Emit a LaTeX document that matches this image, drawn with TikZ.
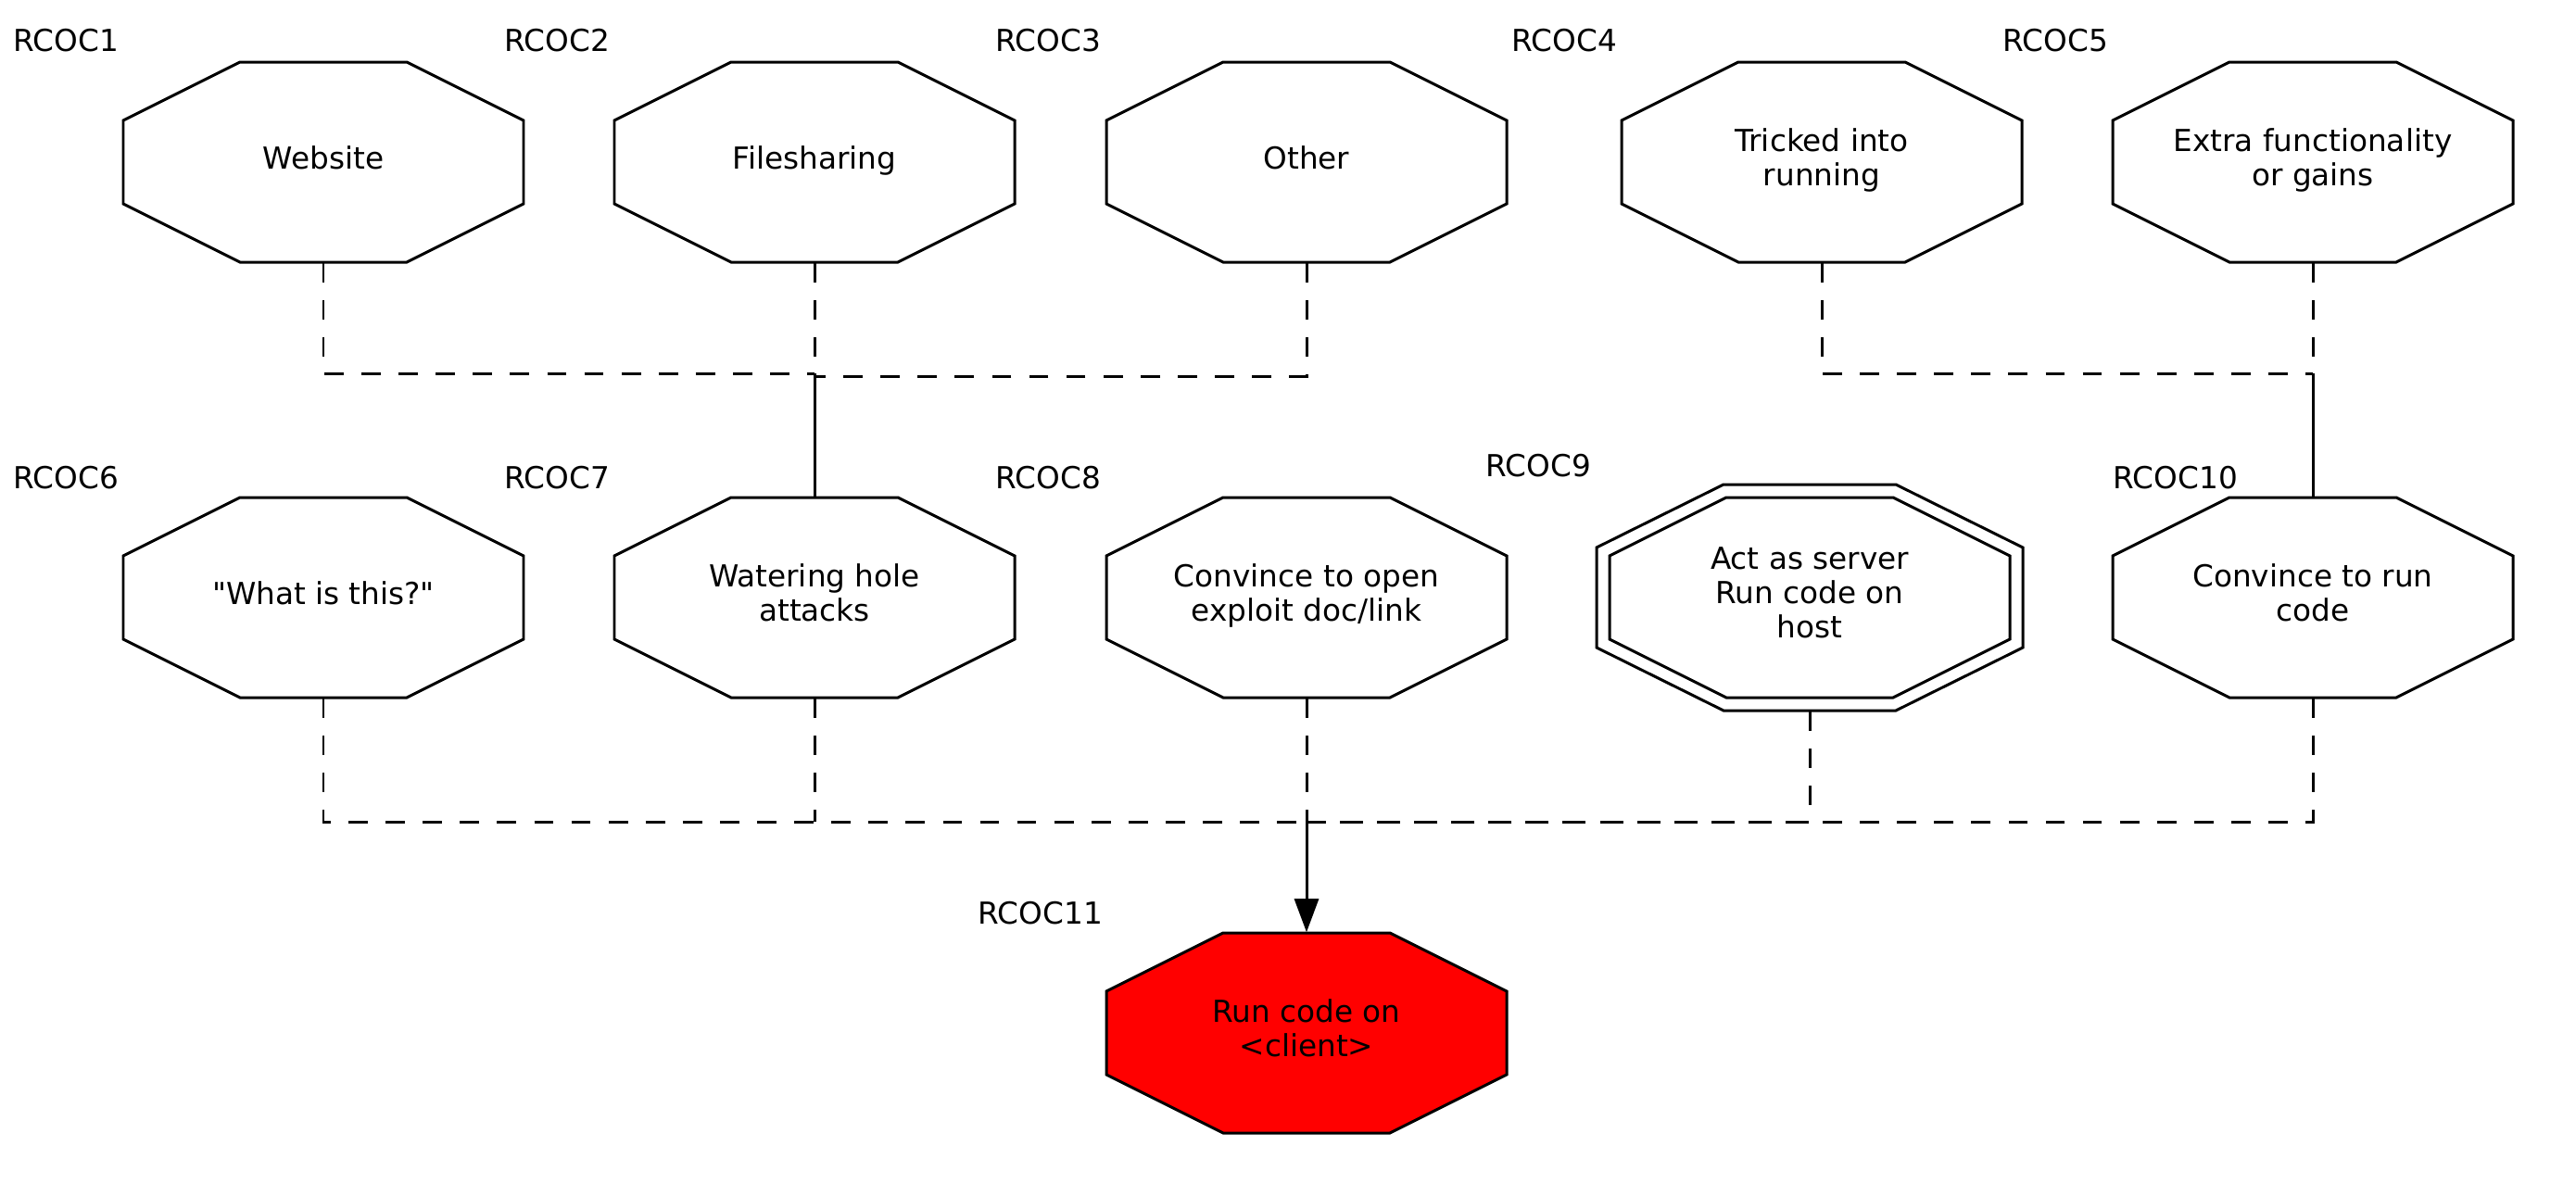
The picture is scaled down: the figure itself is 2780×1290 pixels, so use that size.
\documentclass[tikz,border=0pt]{standalone}
\usepackage{fontspec}
\newfontfamily\nodefont{DejaVu Sans}
\usetikzlibrary{arrows.meta,backgrounds}
\newcommand\octpath[1]{(#1.center) ++(-90,-108) -- ++(180,0) -- ++(126,63) -- ++(0,90) -- ++(-126,63) -- ++(-180,0) -- ++(-126,-63) -- ++(0,-90) -- cycle}
\newcommand\octouter[1]{(#1.center) ++(-93,-122) -- ++(186,0) -- ++(137,68) -- ++(0,108) -- ++(-137,68) -- ++(-186,0) -- ++(-137,-68) -- ++(0,-108) -- cycle}
\begin{document}
\begin{tikzpicture}[x=0.01cm,y=-0.01cm,
  box/.style={shape=rectangle,draw=none,minimum width=4.32cm,minimum height=2.16cm,inner sep=0pt,align=center,font=\nodefont\fontsize{9.3}{10.4}\selectfont,execute at begin node=\strut,execute at end node=\strut},
  bigbox/.style={box,minimum width=4.6cm,minimum height=2.44cm},
  lbl/.style={anchor=west,inner sep=0pt,font=\nodefont\fontsize{9.3}{10.4}\selectfont},
  oct/.style={draw=black,line width=0.85pt,line join=miter},
  dsh/.style={draw=black,line width=0.85pt,dash pattern=on 5.9pt off 5.5pt},
  sol/.style={draw=black,line width=0.85pt},
  arr/.style={sol,-{Triangle[length=0.36cm,width=0.26cm]}}]
\useasboundingbox (0,0) rectangle (2780,1290);

% nodes
\node[box] (web)   at (349,175)  {Website};
\node[box] (file)  at (879,175)  {Filesharing};
\node[box] (oth)   at (1410,175) {Other};
\node[box] (trick) at (1966,175) {Tricked into\\running};
\node[box] (extra) at (2496,175) {Extra functionality\\or gains};

\node[box] (what)  at (349,645)  {"What is this?"};
\node[box] (water) at (879,645)  {Watering hole\\attacks};
\node[box] (conv)  at (1410,645) {Convince to open\\exploit doc/link};
\node[bigbox] (act) at (1953,645) {Act as server\\Run code on\\host};
\node[box] (run)   at (2496,645) {Convince to run\\code};

\node[box] (client) at (1410,1115) {Run code on\\<client>};

% labels
\node[lbl] (l1)  at (14,44)   {RCOC1};
\node[lbl] (l2)  at (544,44)  {RCOC2};
\node[lbl] (l3)  at (1074,44) {RCOC3};
\node[lbl] (l4)  at (1631,44) {RCOC4};
\node[lbl] (l5)  at (2161,44) {RCOC5};
\node[lbl] (l6)  at (14,516)  {RCOC6};
\node[lbl] (l7)  at (544,516) {RCOC7};
\node[lbl] (l8)  at (1074,516) {RCOC8};
\node[lbl] (l9)  at (1603,503) {RCOC9};
\node[lbl] (l10) at (2280,516) {RCOC10};
\node[lbl] (l11) at (1055,986) {RCOC11};

% octagon outlines
\begin{scope}[on background layer]
  \foreach \n in {web,file,oth,trick,extra,what,water,conv,run}
    \draw[oct] \octpath{\n};
  \draw[oct] \octpath{act};
  \draw[oct] \octouter{act};
  \draw[oct,fill=red] \octpath{client};
\end{scope}

% junctions
\coordinate (j1)  at (879,403);
\coordinate (j1b) at (879,406);
\coordinate (j2)  at (2496,403);
\coordinate (j3)  at (1410,887);

% connectors
\draw[dsh] (web.south) |- (j1);
\draw[dsh] (file.south) -- (j1);
\draw[dsh] (oth.south) |- (j1b);
\draw[sol] (j1) -- (water.north);

\draw[dsh] (trick.south) |- (j2);
\draw[dsh] (extra.south) -- (j2);
\draw[sol] (j2) -- (run.north);

\draw[dsh] (what.south) |- (j3);
\draw[dsh] (water.south) -- (water.south |- j3);
\draw[dsh] (conv.south) -- (j3);
\draw[dsh] (act.south) |- (j3);
\draw[dsh] (run.south) |- (j3);
\draw[arr] (j3) -- (client.north);
\end{tikzpicture}
\end{document}
